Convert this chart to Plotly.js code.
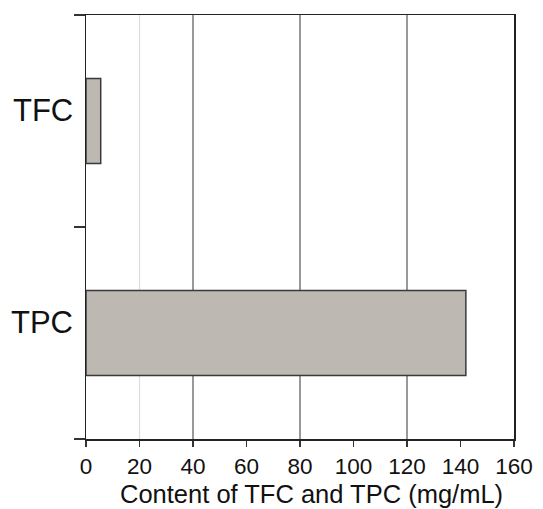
<!DOCTYPE html>
<html>
<head>
<meta charset="utf-8">
<script src="https://cdn.plot.ly/plotly-3.0.1.min.js"></script>
<style>html,body{margin:0;padding:0;background:#fff;}#chart{width:543px;height:509px;}</style>
</head>
<body>
<div id="chart"></div>
<script>
const categories = ["TPC", "TFC"];
const values = [142, 5.5];
const xTickVals = [0, 20, 40, 60, 80, 100, 120, 140, 160];
const gridDark = [40, 80, 120];
const gridLight = [20];
const xTitle = "Content of TFC and TPC (mg/mL)";

const font = "Liberation Sans, Arial, sans-serif";

const shapes = [];
gridLight.forEach(v => shapes.push({type: "line", xref: "x", yref: "paper", x0: v, x1: v, y0: 0, y1: 1, layer: "below", line: {color: "#dcdcdc", width: 1.2}}));
gridDark.forEach(v => shapes.push({type: "line", xref: "x", yref: "paper", x0: v, x1: v, y0: 0, y1: 1, layer: "below", line: {color: "#555555", width: 1.2}}));

const trace = {
  type: "bar",
  orientation: "h",
  x: values,
  y: categories,
  width: 0.4,
  marker: {color: "#bdb8b2", line: {color: "#3a3a3a", width: 1.5}},
  hoverinfo: "x+y"
};

const annotations = categories.map(c => ({
  text: c, xref: "paper", yref: "y", x: 0, y: c,
  xanchor: "right", yanchor: "middle", xshift: -11, yshift: 11,
  showarrow: false, font: {size: 31, family: font, color: "#111"}
}));
annotations.push({
  text: xTitle, xref: "paper", yref: "paper", x: 0.528, y: 0,
  yshift: -55, xanchor: "center", yanchor: "middle", showarrow: false,
  font: {size: 25.5, family: font, color: "#111"}
});

const layout = {
  width: 543, height: 509,
  margin: {l: 86, r: 29, t: 15, b: 70},
  paper_bgcolor: "#fff", plot_bgcolor: "#fff",
  showlegend: false,
  font: {family: font, color: "#111"},
  xaxis: {
    range: [0, 160],
    tickvals: xTickVals,
    ticktext: xTickVals.map(String),
    ticks: "outside", ticklen: 6, tickwidth: 1.2, tickcolor: "#333",
    showgrid: false, zeroline: false,
    showline: true, linecolor: "#222", linewidth: 1.5, mirror: true,
    tickfont: {size: 22.5, family: font, color: "#111"}
  },
  yaxis: {
    type: "category",
    categoryorder: "array", categoryarray: categories,
    range: [-0.5, 1.5],
    tickson: "boundaries",
    ticks: "outside", ticklen: 11, tickwidth: 1.2, tickcolor: "#333",
    showgrid: false, zeroline: false,
    showline: true, linecolor: "#222", linewidth: 1.5, mirror: true,
    showticklabels: false
  },
  annotations: annotations,
  shapes: shapes
};

Plotly.newPlot("chart", [trace], layout, {displayModeBar: false, staticPlot: true});
</script>
</body>
</html>
